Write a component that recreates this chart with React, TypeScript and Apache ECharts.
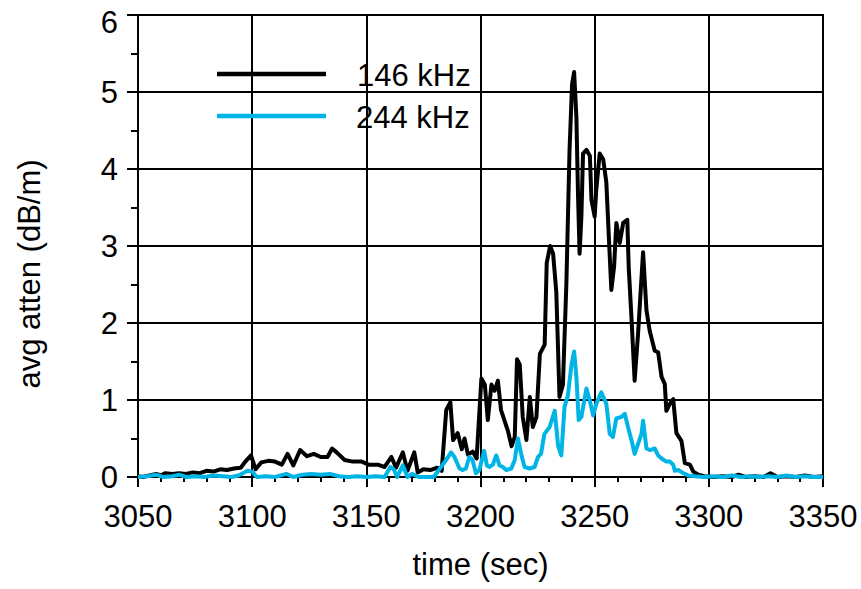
import React, { useEffect, useRef } from "react";
import * as echarts from "echarts";

const xTicks = [3050, 3100, 3150, 3200, 3250, 3300, 3350];
const yTicks = [0, 1, 2, 3, 4, 5, 6];

const t146 = [
  3050, 3052, 3055, 3058, 3060, 3062, 3065, 3068, 3071, 3074, 3077, 3080, 3083, 3086, 3089, 3092, 3095, 3097,
  3099.5, 3101.5, 3104, 3107, 3110, 3113, 3115.5, 3118, 3121, 3124, 3127, 3130, 3133, 3135, 3137, 3140.5, 3144,
  3148, 3151, 3155, 3158, 3161, 3163, 3166, 3168, 3171, 3172.5, 3175, 3178, 3181, 3183, 3185, 3186.8, 3188, 3190,
  3191.8, 3193, 3194.5, 3196.6, 3198.3, 3199.3, 3200.4, 3201.9, 3203.2, 3204.8, 3206.2, 3207.6, 3209, 3212,
  3213.6, 3215, 3216, 3217.2, 3218.5, 3220.1, 3221.6, 3222.9, 3224.5, 3226, 3228.1, 3229, 3230.5, 3231.8, 3233.2,
  3234.6, 3236.1, 3237.6, 3239, 3240.1, 3241, 3242, 3242.7, 3243.4, 3244.2, 3244.9, 3246.4, 3247.9, 3248.6, 3250,
  3250.7, 3252.2, 3253.7, 3255.1, 3256.6, 3257.3, 3258.5, 3259.5, 3261, 3262.5, 3264.3, 3264.9, 3266.1, 3267.5,
  3269, 3271.2, 3272.7, 3274.1, 3276.3, 3277.8, 3279.3, 3280.7, 3281.4, 3282.9, 3284.4, 3285.8, 3288, 3289.5,
  3291.7, 3293.2, 3295.4, 3298, 3302, 3306, 3310, 3313, 3316, 3320, 3324, 3327, 3330, 3334, 3338, 3342, 3346, 3350,
];
const v146 = [
  0.01, 0.0, 0.02, 0.04, 0.02, 0.05, 0.04, 0.05, 0.04, 0.06, 0.05, 0.08, 0.07, 0.1, 0.09, 0.11, 0.12, 0.2,
  0.28, 0.1, 0.19, 0.21, 0.2, 0.16, 0.3, 0.15, 0.35, 0.27, 0.3, 0.26, 0.26, 0.37, 0.32, 0.22, 0.2,
  0.2, 0.16, 0.16, 0.13, 0.26, 0.12, 0.32, 0.08, 0.32, 0.06, 0.1, 0.09, 0.12, 0.08, 0.87, 0.97, 0.48, 0.57,
  0.36, 0.5, 0.29, 0.33, 0.24, 0.74, 1.28, 1.2, 0.74, 1.2, 1.12, 1.25, 0.87, 0.6,
  0.4, 0.52, 1.53, 1.46, 0.78, 0.48, 1.04, 0.65, 0.78, 1.6, 1.72, 2.78, 3.0, 2.9, 2.4,
  1.04, 1.2, 2.5, 4.25, 5.1, 5.26, 4.67, 3.67, 2.9, 3.39, 4.2, 4.25, 4.17, 3.6, 3.38,
  3.73, 4.2, 4.13, 3.83, 2.87, 2.43, 2.73, 3.3, 3.04, 3.3, 3.34, 2.73, 2.08, 1.25,
  1.86, 2.92, 2.16, 1.9, 1.64, 1.62, 1.3, 1.21, 0.86, 0.95, 1.01, 0.57, 0.47, 0.18,
  0.16, 0.07, 0.03, 0.01, 0.0, 0.01, 0.0, 0.03, 0.0, 0.01, 0.0, 0.05, 0.0, 0.01, 0.0, 0.02, 0.0, 0.01,
];

const t244 = [
  3050, 3054, 3058, 3061, 3065, 3068, 3071, 3075, 3079, 3083, 3087, 3091, 3094, 3098, 3100, 3102, 3106, 3110,
  3115, 3118, 3122, 3126, 3130, 3134, 3138, 3142, 3146, 3150, 3154, 3158, 3160.5, 3162, 3163.5, 3166, 3168, 3170,
  3173, 3177, 3179.5, 3182, 3184.9, 3187.1, 3188.6, 3190.8, 3192.2, 3193.6, 3195.1, 3196.5, 3198, 3199.5, 3201.6,
  3202.8, 3204, 3205.4, 3206.9, 3208.3, 3209.8, 3211.3, 3213.5, 3215, 3216.4, 3217.8, 3219.3, 3221.5, 3223.7,
  3225.2, 3226.5, 3228, 3230.3, 3232.5, 3234, 3235.4, 3236.8, 3238.3, 3239.8, 3241, 3242, 3243, 3244.2, 3246.4,
  3247.9, 3249.3, 3250.7, 3252.9, 3255.1, 3256.6, 3258, 3259.5, 3261.7, 3263.2, 3264.6, 3266.1, 3267.5, 3269,
  3270.5, 3271.2, 3272.7, 3274.1, 3276.3, 3277.8, 3279.3, 3281.4, 3282.9, 3284.4, 3285.1, 3286.6, 3288.8, 3291,
  3294, 3298, 3302, 3306, 3310, 3314, 3318, 3322, 3326, 3330, 3334, 3338, 3342, 3346, 3350,
];
const v244 = [
  0.0, 0.01, 0.03, 0.0, 0.01, 0.03, 0.0, 0.01, 0.0, 0.02, 0.01, 0.0, 0.02, 0.08, 0.07, 0.0, 0.01, 0.0,
  0.04, 0.0, 0.03, 0.04, 0.03, 0.04, 0.01, 0.0, 0.01, 0.0, 0.01, 0.0, 0.13, 0.1, 0.0, 0.15, 0.0, 0.04,
  0.0, 0.0, 0.0, 0.1, 0.22, 0.32, 0.26, 0.11, 0.09, 0.11, 0.26, 0.22, 0.05, 0.09, 0.34,
  0.15, 0.13, 0.16, 0.28, 0.15, 0.13, 0.09, 0.11, 0.22, 0.5, 0.3, 0.13, 0.11, 0.13,
  0.26, 0.3, 0.56, 0.65, 0.86, 0.4, 0.28, 0.91, 1.06, 1.45, 1.63, 1.3, 0.74, 0.78, 1.15,
  0.99, 0.8, 0.95, 1.1, 0.95, 0.56, 0.52, 0.76, 0.78, 0.82, 0.65, 0.48, 0.3, 0.43,
  0.56, 0.73, 0.37, 0.35, 0.37, 0.28, 0.24, 0.2, 0.2, 0.16, 0.08, 0.09, 0.05, 0.02,
  0.01, 0.0, 0.01, 0.0, 0.02, 0.0, 0.01, 0.0, 0.01, 0.0, 0.02, 0.0, 0.01, 0.0, 0.0,
];

const seriesNames = ["146 kHz", "244 kHz"];
const seriesColors = ["#000000", "#00b5e6"];

const FONT = "'Liberation Sans', Arial, Helvetica, sans-serif";
const FS = 31;

export default function App() {
  const ref = useRef<HTMLDivElement>(null);
  useEffect(() => {
    if (!ref.current) return;
    const chart = echarts.init(ref.current, undefined, { renderer: "svg" });
    const pairs = (ts: number[], vs: number[]) => ts.map((t, i) => [t, vs[i]]);
    const yMax = yTicks[yTicks.length - 1];
    const axisCommon = {
      axisLine: { show: true, lineStyle: { color: "#000", width: 2 } },
      splitLine: { show: true, lineStyle: { color: "#000", width: 2 } },
      axisLabel: { color: "#000", fontSize: FS, fontFamily: FONT },
    };
    chart.setOption({
      animation: false,
      backgroundColor: "#fff",
      grid: {
        left: 138,
        right: 38,
        top: 15,
        bottom: 112,
        show: true,
        borderColor: "#000",
        borderWidth: 2,
        containLabel: false,
        outerBoundsMode: "none",
      },
      xAxis: {
        type: "value",
        min: xTicks[0],
        max: xTicks[xTicks.length - 1],
        interval: 50,
        ...axisCommon,
        axisTick: { show: true, inside: false, length: 10, lineStyle: { color: "#000", width: 2 } },
        minorTick: { show: true, splitNumber: 5, length: 5, lineStyle: { color: "#000", width: 2 } },
        axisLabel: { ...axisCommon.axisLabel, margin: 24, formatter: (v: number) => String(v) },
        name: "time (sec)",
        nameLocation: "middle",
        nameGap: 72,
        nameTextStyle: { color: "#000", fontSize: FS, fontFamily: FONT },
      },
      yAxis: {
        type: "value",
        min: yTicks[0],
        max: yMax,
        interval: 1,
        ...axisCommon,
        axisTick: { show: true, inside: false, length: 11, lineStyle: { color: "#000", width: 2 } },
        minorTick: { show: true, splitNumber: 2, length: 7, lineStyle: { color: "#000", width: 2 } },
        axisLabel: {
          ...axisCommon.axisLabel,
          margin: 20,
          lineHeight: 26,
          formatter: (v: number) => (v === yMax ? "{top|" + v + "}" : String(v)),
          rich: {
            top: {
              fontSize: FS,
              fontFamily: FONT,
              color: "#000",
              lineHeight: 26,
              padding: [14, 0, 0, 0],
            },
          },
        },
      },
      graphic: [
        {
          type: "text",
          x: 29,
          y: 274,
          rotation: Math.PI / 2,
          style: {
            text: "avg atten (dB/m)",
            fontSize: FS,
            fontFamily: FONT,
            fill: "#000",
            align: "center",
            verticalAlign: "middle",
          },
        },
        {
          type: "line",
          shape: { x1: 217, y1: 74, x2: 326, y2: 74 },
          style: { stroke: seriesColors[0], lineWidth: 4.5 },
          z: 10,
        },
        {
          type: "text",
          x: 357,
          y: 75,
          style: { text: seriesNames[0], fontSize: FS, fontFamily: FONT, fill: "#000", verticalAlign: "middle" },
          z: 10,
        },
        {
          type: "line",
          shape: { x1: 217, y1: 116, x2: 326, y2: 116 },
          style: { stroke: seriesColors[1], lineWidth: 4.5 },
          z: 10,
        },
        {
          type: "text",
          x: 356,
          y: 117,
          style: { text: seriesNames[1], fontSize: FS, fontFamily: FONT, fill: "#000", verticalAlign: "middle" },
          z: 10,
        },
      ],
      series: [
        {
          name: seriesNames[0],
          type: "line",
          data: pairs(t146, v146),
          showSymbol: false,
          clip: false,
          lineStyle: { color: seriesColors[0], width: 4, join: "round" },
          itemStyle: { color: seriesColors[0] },
          z: 3,
        },
        {
          name: seriesNames[1],
          type: "line",
          data: pairs(t244, v244),
          showSymbol: false,
          clip: false,
          lineStyle: { color: seriesColors[1], width: 4, join: "round" },
          itemStyle: { color: seriesColors[1] },
          z: 4,
        },
      ],
    });
    return () => chart.dispose();
  }, []);
  return (
    <div
      ref={ref}
      style={{ position: "absolute", left: 0, top: 0, width: 861, height: 589, background: "#fff" }}
    />
  );
}
